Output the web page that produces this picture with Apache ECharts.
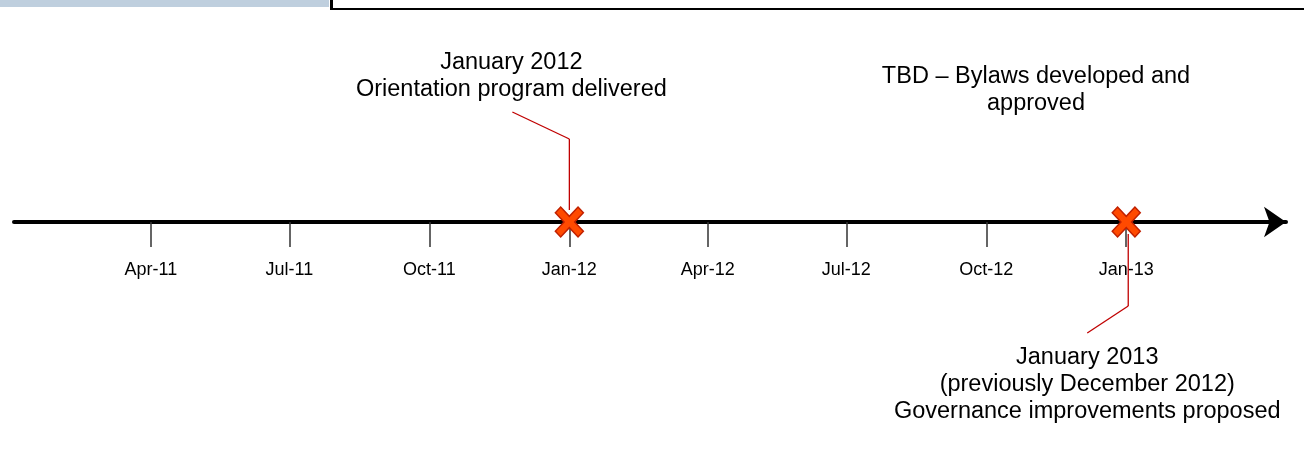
<!DOCTYPE html>
<html><head><meta charset="utf-8">
<script src="https://cdn.jsdelivr.net/npm/echarts@6/dist/echarts.min.js"></script>
<style>html,body{margin:0;padding:0;background:#fff}#c{width:1304px;height:455px}</style>
</head><body><div id="c"></div>
<script>
// ---- data ----
const tickDates = ['2011-04-01','2011-07-01','2011-10-01','2012-01-01','2012-04-01','2012-07-01','2012-10-01','2013-01-01'];
const tickLabels = ['Apr-11','Jul-11','Oct-11','Jan-12','Apr-12','Jul-12','Oct-12','Jan-13'];
const milestoneDates = ['2012-01-01','2013-01-01'];
const milestoneTexts = [
  'January 2012\nOrientation program delivered',
  'January 2013\n(previously December 2012)\nGovernance improvements proposed'
];
const noteText = 'TBD \u2013 Bylaws developed and\napproved';
const axisStart = '2011-01-01';
const axisEnd = '2013-04-16';

// ---- layout (pixel offsets relative to each milestone marker) ----
const calloutLayout = [
  { vx: 0, vy1: -12, vy2: -83, end: [-57, -110], textDx: -58, textTop: -173 },
  { vx: 2, vy1: 12, vy2: 84, end: [-39, 111], textDx: -39, textTop: 122 }
];

function ts(s) { const p = s.split('-').map(Number); return Date.UTC(p[0], p[1] - 1, p[2]); }
const tickTs = tickDates.map(ts);
const FONT = '"Liberation Sans", Arial, sans-serif';
const CAPTION_FONT = '23.5px ' + FONT;
const LEADER = '#C00000';

const xPath = 'path://M0,1.9 L1.9,0 L5,3.1 L8.1,0 L10,1.9 L6.9,5 L10,8.1 L8.1,10 L5,6.9 L1.9,10 L0,8.1 L3.1,5 Z';

const chart = echarts.init(document.getElementById('c'), null, { renderer: 'canvas' });
const staticGraphics = [
  { id: 'band', type: 'rect', shape: { x: 0, y: 0, width: 329, height: 7 }, style: { fill: '#BFCFDE' } },
  { id: 'frameV', type: 'rect', shape: { x: 330, y: 0, width: 3, height: 10 }, style: { fill: '#000' } },
  { id: 'frameH', type: 'rect', shape: { x: 330, y: 8, width: 974, height: 2 }, style: { fill: '#000' } },
  { id: 'note', type: 'text', x: 1036, y: 63, style: { text: noteText, font: CAPTION_FONT, fill: '#000', align: 'center', verticalAlign: 'top', lineHeight: 27 } }
];
chart.setOption({
  animation: false,
  backgroundColor: '#fff',
  grid: { left: 14, right: 18, top: 20, bottom: 233 },
  xAxis: {
    type: 'value',
    min: ts(axisStart),
    max: ts(axisEnd),
    splitLine: { show: false },
    axisLine: {
      show: true,
      lineStyle: { color: '#000', width: 4 },
      symbol: ['none', 'arrow'],
      symbolSize: [23, 22]
    },
    axisTick: {
      show: true, inside: false, length: 25,
      customValues: tickTs,
      lineStyle: { color: '#333', width: 1.5 }
    },
    axisLabel: {
      show: true, margin: 39,
      customValues: tickTs,
      color: '#000', fontSize: 18, fontFamily: FONT,
      formatter: function (v) {
        const i = tickTs.indexOf(v);
        return i >= 0 ? tickLabels[i] : '';
      }
    }
  },
  yAxis: { type: 'value', min: 0, max: 1, show: false },
  graphic: staticGraphics,
  series: [
    {
      type: 'scatter',
      z: 3,
      clip: false,
      symbol: xPath,
      symbolSize: [28, 30],
      itemStyle: { color: '#FF4A00', borderColor: '#C02000', borderWidth: 1.5, opacity: 1 },
      data: milestoneDates.map(function (d) { return [ts(d), 0]; })
    }
  ]
});

// callouts: positioned from each milestone's pixel position on the chart's scale
const callouts = [];
milestoneDates.forEach(function (d, i) {
  const p = chart.convertToPixel({ gridIndex: 0 }, [ts(d), 0]);
  const L = calloutLayout[i];
  const x = p[0] + L.vx;
  const ya = p[1] + Math.min(L.vy1, L.vy2), yb = p[1] + Math.max(L.vy1, L.vy2);
  callouts.push({
    id: 'leaderV' + i, type: 'rect', z: 1,
    shape: { x: x - 0.65, y: ya, width: 1.3, height: yb - ya },
    style: { fill: LEADER }
  });
  callouts.push({
    id: 'leaderD' + i, type: 'line', z: 1,
    shape: { x1: x, y1: p[1] + L.vy2, x2: p[0] + L.end[0], y2: p[1] + L.end[1] },
    style: { stroke: LEADER, lineWidth: 1.3 }
  });
  callouts.push({
    id: 'caption' + i, type: 'text',
    x: p[0] + L.textDx, y: p[1] + L.textTop,
    style: { text: milestoneTexts[i], font: CAPTION_FONT, fill: '#000', align: 'center', verticalAlign: 'top', lineHeight: 27 }
  });
});
chart.setOption({ graphic: staticGraphics.concat(callouts) });
</script>
</body></html>
